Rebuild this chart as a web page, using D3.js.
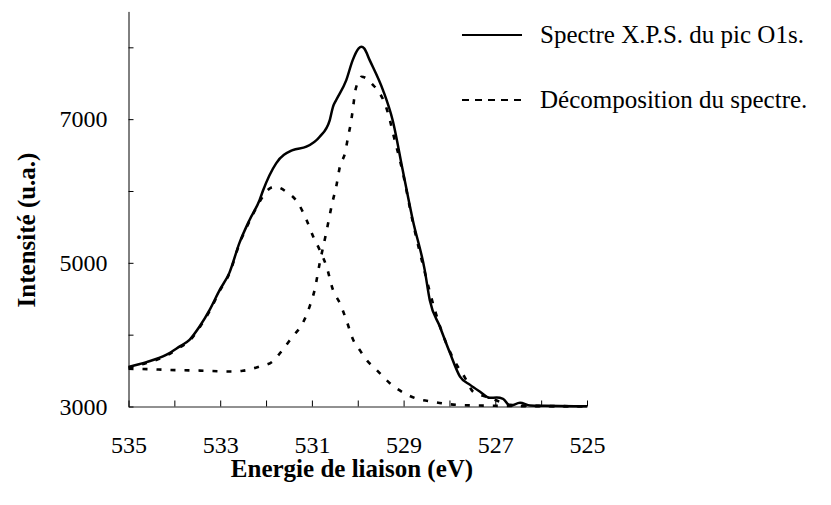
<!DOCTYPE html>
<html>
<head>
<meta charset="utf-8">
<script src="https://cdn.jsdelivr.net/npm/d3@7"></script>
<style>
  html, body { margin: 0; padding: 0; background: #fff; }
  svg { display: block; }
  text { font-family: "Liberation Serif", "Times New Roman", serif; fill: #000; }
</style>
</head>
<body>
<svg id="chart" width="831" height="505"></svg>
<script>
// ---- Data (binding energy in eV, intensity in a.u.) ----
const spectrumEnergy = [535.0, 534.61, 534.18, 533.89, 533.67, 533.45, 533.23, 533.01, 532.80, 532.58, 532.36, 532.14, 532.07, 531.78, 531.42, 531.12, 530.83, 530.61, 530.54, 530.47, 530.25, 530.11, 529.98, 529.92, 529.86, 529.74, 529.45, 529.24, 529.02, 528.80, 528.54, 528.43, 528.21, 527.99, 527.77, 527.55, 527.34, 527.12, 526.97, 526.83, 526.68, 526.46, 526.24, 525.92, 525.0];
const spectrumValue  = [3552, 3618, 3719, 3834, 3928, 4113, 4345, 4623, 4860, 5277, 5597, 5875, 6000, 6385, 6570, 6616, 6755, 6988, 7172, 7266, 7544, 7822, 7985, 8007, 7985, 7822, 7405, 6988, 6293, 5597, 4902, 4484, 4113, 3747, 3417, 3301, 3209, 3121, 3125, 3107, 3010, 3051, 3014, 3010, 3003];

const peak1Energy = [535.0, 534.61, 534.18, 533.89, 533.67, 533.45, 533.23, 533.01, 532.80, 532.58, 532.36, 532.14, 532.0, 531.81, 531.56, 531.30, 531.12, 530.97, 530.83, 530.68, 530.54, 530.39, 530.25, 530.10, 529.96, 529.81, 529.59, 529.30, 529.01, 528.72, 528.36, 528.03, 527.70, 527.34, 527.01, 526.24, 525.0];
const peak1Value  = [3540, 3605, 3705, 3820, 3915, 4100, 4330, 4610, 4850, 5265, 5580, 5850, 5990, 6060, 5990, 5830, 5600, 5364, 5179, 4947, 4623, 4438, 4206, 3928, 3789, 3650, 3510, 3325, 3195, 3110, 3065, 3033, 3019, 3014, 3010, 3005, 3003];

const peak2Energy = [535.0, 534.54, 534.18, 533.45, 532.73, 532.51, 532.14, 531.86, 531.64, 531.42, 531.20, 531.05, 530.94, 530.83, 530.69, 530.55, 530.47, 530.39, 530.28, 530.21, 530.14, 530.10, 530.05, 529.96, 529.92, 529.81, 529.70, 529.52, 529.41, 529.30, 529.23, 529.02, 528.80, 528.54, 528.32, 528.10, 527.88, 527.66, 527.49, 527.34, 527.12, 526.90, 526.68, 526.24, 525.0];
const peak2Value  = [3525, 3520, 3510, 3500, 3487, 3497, 3556, 3626, 3789, 3974, 4160, 4391, 4623, 4994, 5412, 5850, 6060, 6338, 6524, 6755, 6988, 7172, 7405, 7544, 7590, 7567, 7498, 7359, 7220, 6988, 6802, 6264, 5570, 4874, 4345, 3928, 3622, 3399, 3209, 3163, 3121, 3065, 3024, 3010, 3003];

const xTicks = [535, 534, 533, 532, 531, 530, 529, 528, 527, 526, 525];
const xTickLabels = [535, 533, 531, 529, 527, 525];
const yTicks = [3000, 4000, 5000, 6000, 7000, 8000];
const yTickLabels = [3000, 5000, 7000];

const xTitle = "Energie de liaison (eV)";
const yTitle = "Intensité (u.a.)";
const legendLabels = ["Spectre X.P.S. du pic O1s.", "Décomposition du spectre."];

// ---- Chart ----
const svg = d3.select("#chart");
const x = d3.scaleLinear().domain([535, 525]).range([128.5, 587]);
const y = d3.scaleLinear().domain([3000, 8500]).range([406.5, 11.4]);

// axes
const xAxis = d3.axisBottom(x)
  .tickValues(xTicks)
  .tickSizeInner(-6).tickSizeOuter(0).tickPadding(29)
  .tickFormat(d => xTickLabels.includes(d) ? d3.format("d")(d) : "");
const gx = svg.append("g").attr("transform", `translate(0,${y(3000)})`).call(xAxis);
gx.selectAll("text").style("font-size", "24px").attr("font-family", null);
gx.select(".domain").attr("stroke", "#222");

const yAxis = d3.axisLeft(y)
  .tickValues(yTicks)
  .tickSizeInner(-5).tickSizeOuter(0).tickPadding(21)
  .tickFormat(d => yTickLabels.includes(d) ? d3.format("d")(d) : "");
const gy = svg.append("g").attr("transform", `translate(${x(535)},0)`).call(yAxis);
gy.selectAll("text").style("font-size", "24px").attr("font-family", null);

// titles
svg.append("text")
  .attr("x", 352).attr("y", 477)
  .attr("text-anchor", "middle")
  .style("font-size", "25px").style("font-weight", "bold")
  .text(xTitle);
svg.append("text")
  .attr("transform", "translate(35,230) rotate(-90)")
  .attr("text-anchor", "middle")
  .style("font-size", "25px").style("font-weight", "bold")
  .text(yTitle);

// curves
const line = d3.line()
  .x(d => x(d[0])).y(d => y(d[1]))
  .curve(d3.curveMonotoneX);
const zip = (a, b) => a.map((v, i) => [v, b[i]]);

svg.append("path")
  .datum(zip(peak1Energy, peak1Value))
  .attr("d", line).attr("fill", "none")
  .attr("stroke", "#000").attr("stroke-width", 2.6)
  .attr("stroke-dasharray", "5,9");
svg.append("path")
  .datum(zip(peak2Energy, peak2Value))
  .attr("d", line).attr("fill", "none")
  .attr("stroke", "#000").attr("stroke-width", 2.6)
  .attr("stroke-dasharray", "5,9");
svg.append("path")
  .datum(zip(spectrumEnergy, spectrumValue))
  .attr("d", line).attr("fill", "none")
  .attr("stroke", "#000").attr("stroke-width", 2.5)
  .attr("stroke-linejoin", "round");

// legend
const legend = svg.append("g");
legend.append("line").attr("x1", 462).attr("x2", 522).attr("y1", 35).attr("y2", 35)
  .attr("stroke", "#000").attr("stroke-width", 2);
legend.append("line").attr("x1", 462).attr("x2", 522).attr("y1", 100).attr("y2", 100)
  .attr("stroke", "#000").attr("stroke-width", 2).attr("stroke-dasharray", "7,6");
legend.append("text").attr("x", 540).attr("y", 43).style("font-size", "25px").text(legendLabels[0]);
legend.append("text").attr("x", 540).attr("y", 108).style("font-size", "25px").text(legendLabels[1]);
</script>
</body>
</html>
